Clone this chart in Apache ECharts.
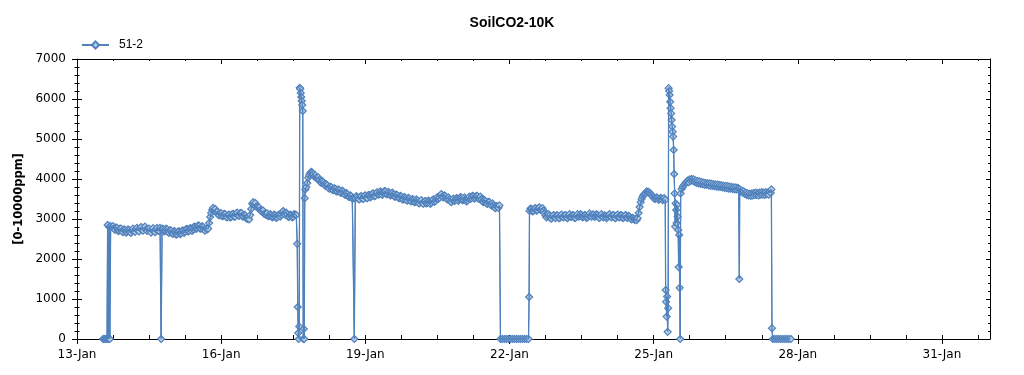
<!DOCTYPE html>
<html><head><meta charset="utf-8">
<script src="https://cdn.jsdelivr.net/npm/echarts@6/dist/echarts.min.js"></script>
<style>html,body{margin:0;padding:0;background:#fff}#c{width:1024px;height:375px}</style>
</head><body><div id="c"></div>
<script>
const chartTitle = 'SoilCO2-10K';
const seriesName = '51-2';
const yAxisName = '[0-10000ppm]';
const monthNames = ['Jan','Feb','Mar','Apr','May','Jun','Jul','Aug','Sep','Oct','Nov','Dec'];
const axisStartUTC = Date.UTC(2000, 0, 13); // 13-Jan 00:00
const axisDays = 19;          // 13-Jan .. 1-Feb
const labelEveryDays = 3;
const minorEveryDays = 0.75;
const yMax = 7000, yStep = 1000;

// sample times: hours after 13-Jan 00:00
const hours = [
  13, 13.5, 14, 14.5, 15, 15.3, 15.7, 16.1, 16.4, 16.8, 17.5,
  18, 18.5, 19, 19.5, 20, 20.5, 21, 21.5, 22, 22.5, 23, 23.5, 24, 24.5, 25, 25.5, 26, 26.5, 27, 27.5,
  28, 28.5, 29, 29.5, 30, 30.5, 31, 31.5, 32, 32.5, 33, 33.5, 34, 34.5, 35, 35.5, 36, 36.5, 37, 37.5,
  38, 38.5, 39, 39.5, 40, 40.5, 41, 41.5, 42, 42.5,
  43, 43.5, 44, 44.5, 45, 45.5, 46, 46.5, 47, 47.5, 48, 48.5, 49, 49.5, 50, 50.5, 51, 51.5, 52, 52.5,
  53, 53.5, 54, 54.5, 55, 55.5, 56, 56.5, 57, 57.5, 58, 58.5, 59, 59.5, 60, 60.5, 61, 61.5, 62, 62.5,
  63, 63.5, 64, 64.5, 65,
  65.5, 66, 66.5, 67, 67.5, 68, 68.5, 69,
  69.5, 70, 70.5, 71, 71.5, 72, 72.5, 73, 73.5, 74, 74.5, 75, 75.5, 76, 76.5, 77, 77.5, 78, 78.5, 79, 79.5,
  80, 80.5, 81, 81.5, 82, 82.5, 83, 83.5, 84, 84.5, 85, 85.5, 86,
  86.5, 87, 87.5, 88, 88.5, 89, 89.5, 90, 90.5, 91, 91.5, 92, 92.5, 93, 93.5, 94, 94.5, 95, 95.5, 96,
  96.5, 97, 97.5, 98, 98.5, 99, 99.5, 100, 100.5, 101, 101.5, 102, 102.5, 103, 103.5, 104, 104.5, 105, 105.5,
  106, 106.5, 107, 107.5, 108, 108.5, 109, 109.5,
  110, 110.25, 110.5, 110.75, 111, 111.25, 111.5, 111.75, 112, 112.25, 112.5, 112.75, 113, 113.25, 113.5,
  113.75, 114, 114.5, 115, 115.5, 116, 116.5, 117, 117.5, 118,
  118.5, 119, 119.5, 120, 120.5, 121, 121.5, 122, 122.5, 123, 123.5, 124, 124.5, 125, 125.5, 126, 126.5, 127, 127.5, 128,
  128.5, 129, 129.5, 130, 130.5, 131, 131.5, 132, 132.5, 133, 133.5, 134, 134.5, 135, 135.5, 136, 136.5, 137, 137.5, 138,
  138.5, 139,
  139.5,
  140, 140.5, 141, 141.5, 142, 142.5, 143, 143.5, 144, 144.5, 145, 145.5, 146, 146.5, 147, 147.5, 148, 148.5, 149, 149.5,
  150, 150.5, 151, 151.5, 152, 152.5, 153, 153.5, 154, 154.5, 155, 155.5, 156, 156.5, 157, 157.5, 158, 158.5, 159, 159.5,
  160, 160.5, 161, 161.5, 162, 162.5, 163, 163.5, 164, 164.5, 165, 165.5, 166, 166.5, 167, 167.5, 168, 168.5, 169, 169.5,
  170, 170.5, 171, 171.5, 172, 172.5, 173, 173.5, 174, 174.5, 175, 175.5, 176, 176.5, 177, 177.5, 178, 178.5, 179, 179.5,
  180, 180.5, 181, 181.5, 182, 182.5, 183, 183.5, 184, 184.5, 185, 185.5, 186, 186.5, 187, 187.5, 188, 188.5, 189, 189.5,
  190, 190.5, 191, 191.5, 192, 192.5, 193, 193.5, 194, 194.5, 195, 195.5, 196, 196.5, 197, 197.5, 198, 198.5, 199, 199.5,
  200, 200.5, 201, 201.5, 202, 202.5, 203, 203.5, 204, 204.5, 205, 205.5, 206, 206.5, 207, 207.5, 208, 208.5, 209, 209.5,
  210, 210.5, 211,
  211.5, 212.5, 213.5, 214.5, 215.5, 216.5, 217.5, 218.5, 219.5, 220.5, 221.5, 222.5, 223.5, 224.5, 225.5, 225.8,
  226, 226.5, 227, 227.5, 228, 228.5, 229, 229.5, 230, 230.5, 231, 231.5, 232, 232.5, 233, 233.5, 234, 234.5, 235, 235.5,
  236, 236.5, 237, 237.5, 238, 238.5, 239, 239.5, 240, 240.5, 241, 241.5, 242, 242.5, 243, 243.5, 244, 244.5, 245, 245.5,
  246, 246.5, 247, 247.5, 248, 248.5, 249, 249.5, 250, 250.5, 251, 251.5, 252, 252.5, 253, 253.5, 254, 254.5, 255, 255.5,
  256, 256.5, 257, 257.5, 258, 258.5, 259, 259.5, 260, 260.5, 261, 261.5, 262, 262.5, 263, 263.5, 264, 264.5, 265, 265.5,
  266, 266.5, 267, 267.5, 268, 268.5, 269, 269.5, 270, 270.5, 271, 271.5, 272, 272.5, 273, 273.5, 274, 274.5, 275, 275.5,
  276, 276.5, 277, 277.5, 278,
  278.5, 279, 279.5, 280, 280.5, 281, 281.5, 282, 282.5, 283, 283.5, 284, 284.5, 285, 285.5, 286,
  286.5, 287, 287.5, 288, 288.5, 289, 289.5, 290, 290.5, 291, 291.5, 292, 292.5, 293, 293.3, 293.8,
  294, 294.25, 294.5, 294.75, 295, 295.25, 295.5, 295.75, 296, 296.25, 296.5, 296.75, 297, 297.25, 297.5, 297.75,
  298, 298.25, 298.5, 298.75, 299, 299.25, 299.5, 299.75, 300, 300.25, 300.5, 300.75, 301, 301.25, 301.5,
  302, 302.5, 303, 303.5, 304,
  304.5, 305, 305.5, 306, 306.5, 307, 307.5, 308, 308.5, 309, 309.5, 310, 310.5, 311, 311.5, 312, 312.5, 313, 313.5, 314,
  314.5, 315, 315.5, 316, 316.5, 317, 317.5, 318, 318.5, 319, 319.5, 320, 320.5, 321, 321.5, 322, 322.5, 323, 323.5, 324,
  324.5, 325, 325.5, 326, 326.5, 327, 327.5, 328, 328.5, 329, 329.5, 330,
  330.5, 330.8,
  331, 331.5, 332, 332.5, 333, 333.5, 334, 334.5, 335, 335.5, 336, 336.5, 337, 337.5, 338, 338.5,
  339, 339.5, 340, 340.5, 341, 341.5, 342, 342.5, 343, 343.5, 344, 344.5, 345, 345.5, 346, 346.5,
  346.8, 347.1,
  347.5, 348.5, 349.5, 350.5, 351.5, 352.5, 353.5, 354.5, 355.5, 356.5
];
// CO2 readings (ppm), same order as hours
const ppm = [
  0, 0, 0, 0, 0, 2850, 0, 2800, 0, 2820, 2800,
  2820, 2760, 2730, 2790, 2780, 2700, 2710, 2760, 2760, 2690, 2670, 2740, 2730, 2660, 2680, 2740, 2720, 2670, 2650, 2710,
  2760, 2700, 2680, 2750, 2780, 2720, 2690, 2770, 2800, 2730, 2710, 2780, 2810, 2740, 2700, 2750, 2760, 2690, 2660, 2730,
  2770, 2700, 2670, 2740, 2780, 2710, 2700, 2780, 0, 2760,
  2750, 2690, 2700, 2760, 2740, 2670, 2650, 2720, 2710, 2640, 2630, 2700, 2680, 2610, 2620, 2690, 2690, 2620, 2640, 2710,
  2710, 2650, 2680, 2750, 2750, 2690, 2700, 2770, 2760, 2700, 2740, 2810, 2800, 2750, 2770, 2840, 2830, 2760, 2760, 2820,
  2800, 2730, 2710, 2760, 2740,
  2760, 2900, 3050, 3150, 3230, 3280, 3220, 3250,
  3170, 3180, 3110, 3090, 3150, 3140, 3070, 3080, 3130, 3120, 3050, 3040, 3100, 3110, 3040, 3050, 3120, 3130, 3060, 3060, 3140,
  3160, 3090, 3080, 3150, 3150, 3070, 3060, 3110, 3090, 3020, 3000, 3040, 2990,
  3100, 3250, 3380, 3420, 3350, 3400, 3310, 3300, 3270, 3290, 3220, 3200, 3180, 3210, 3130, 3120, 3100, 3140, 3070, 3080,
  3120, 3100, 3040, 3050, 3110, 3090, 3030, 3040, 3100, 3110, 3060, 3100, 3170, 3200, 3140, 3110, 3160, 3120, 3050,
  3050, 3110, 3100, 3040, 3060, 3120, 3110, 3100,
  2380, 800, 150, 0, 310, 6280, 6250, 6150, 6050, 5950, 5850, 5700, 0, 250, 0,
  3520, 3740, 3800, 3900, 4030, 4100, 4150, 4180, 4160, 4120,
  4060, 4090, 4030, 4000, 4040, 3980, 3930, 3900, 3950, 3910, 3860, 3830, 3870, 3840, 3780, 3760, 3810, 3790, 3730, 3720,
  3770, 3750, 3690, 3690, 3740, 3720, 3660, 3660, 3710, 3680, 3620, 3600, 3650, 3620, 3560, 3550, 3590, 3570, 3510, 3520,
  0, 3520,
  3570,
  3550, 3500, 3490, 3560, 3570, 3510, 3500, 3580, 3590, 3530, 3520, 3600, 3600, 3540, 3570, 3630, 3640, 3570, 3580, 3650,
  3670, 3610, 3620, 3690, 3660, 3600, 3640, 3700, 3690, 3620, 3620, 3680, 3650, 3590, 3600, 3660, 3620, 3560, 3560, 3610,
  3590, 3530, 3520, 3580, 3560, 3490, 3490, 3550, 3530, 3470, 3460, 3530, 3510, 3450, 3440, 3500, 3480, 3420, 3430, 3490,
  3460, 3400, 3390, 3450, 3470, 3400, 3380, 3440, 3450, 3390, 3400, 3460, 3440, 3380, 3410, 3470, 3490, 3430, 3450, 3510,
  3550, 3500, 3530, 3600, 3620, 3560, 3540, 3590, 3570, 3510, 3490, 3540, 3500, 3440, 3420, 3480, 3510, 3450, 3470, 3520,
  3510, 3450, 3490, 3550, 3530, 3470, 3480, 3540, 3500, 3440, 3460, 3520, 3560, 3500, 3520, 3580, 3570, 3510, 3530, 3580,
  3570, 3510, 3500, 3560, 3500, 3440, 3420, 3470, 3450, 3390, 3380, 3430, 3420, 3360, 3340, 3390, 3350, 3290, 3270, 3320,
  3310, 3280, 3340,
  0, 0, 0, 0, 0, 0, 0, 0, 0, 0, 0, 0, 0, 0, 0, 1050,
  3200, 3260, 3250, 3190, 3200, 3260, 3270, 3210, 3220, 3280, 3290, 3230, 3230, 3270, 3210, 3150, 3090, 3040, 3080, 3120,
  3080, 3020, 3010, 3070, 3100, 3040, 3030, 3090, 3090, 3030, 3020, 3080, 3110, 3050, 3040, 3090, 3100, 3040, 3020, 3070,
  3120, 3060, 3050, 3100, 3090, 3030, 3030, 3090, 3120, 3060, 3070, 3120, 3100, 3040, 3050, 3100, 3090, 3030, 3040, 3090,
  3140, 3080, 3060, 3110, 3110, 3050, 3070, 3120, 3100, 3040, 3030, 3090, 3120, 3060, 3040, 3090, 3080, 3020, 3050, 3100,
  3120, 3060, 3040, 3090, 3100, 3040, 3020, 3080, 3110, 3050, 3040, 3100, 3090, 3030, 3030, 3080, 3100, 3040, 3030, 3080,
  3060, 3010, 2990, 3030, 3010,
  2980, 3000, 2970, 3020, 3150, 3300, 3420, 3500, 3560, 3600, 3630, 3640, 3690, 3670, 3680, 3650,
  3620, 3600, 3560, 3530, 3500, 3510, 3540, 3520, 3480, 3500, 3530, 3510, 3470, 3500, 3520, 3480,
  1225, 930, 560, 1060, 180, 770, 6270, 6200, 6100, 5930, 5770, 5640, 5475, 5310, 5180, 5060,
  4725, 4125, 3640, 2810, 3390, 3225, 2900, 3350, 3060, 2725, 1800, 2600, 1280, 0, 3640,
  3750, 3800, 3840, 3870, 3900,
  3930, 3960, 3920, 3990, 3950, 4000, 3960, 3990, 3930, 3960, 3900, 3950, 3890, 3940, 3880, 3920, 3870, 3910, 3850, 3900,
  3860, 3890, 3840, 3890, 3830, 3880, 3830, 3870, 3820, 3860, 3810, 3860, 3800, 3850, 3800, 3840, 3790, 3830, 3780, 3830,
  3770, 3820, 3760, 3810, 3760, 3800, 3750, 3790, 3740, 3790, 3740, 3780,
  3760, 1500,
  3740, 3690, 3710, 3660, 3690, 3630, 3660, 3600, 3640, 3590, 3630, 3580, 3640, 3590, 3650, 3600,
  3660, 3600, 3650, 3590, 3660, 3610, 3670, 3610, 3660, 3600, 3670, 3620, 3660, 3610, 3680, 3650,
  3740, 270,
  0, 0, 0, 0, 0, 0, 0, 0, 0, 0
];

const FONT = 'DejaVu Sans';
const BLACK = '#000';
const LINE_BLUE = '#4F81BD';
if (hours.length !== ppm.length) console.error('length mismatch', hours.length, ppm.length);
const points = hours.map((h, i) => [h / 24, ppm[i]]);
const majorTicks = [];
for (let d = 0; d <= axisDays - 1; d += labelEveryDays) majorTicks.push(d);

function dayLabel(d) {
  if (Math.abs(d / labelEveryDays - Math.round(d / labelEveryDays)) > 1e-6 || d > axisDays - 1) return '';
  const dt = new Date(axisStartUTC + d * 86400000);
  return dt.getUTCDate() + '-' + monthNames[dt.getUTCMonth()];
}

const gridRect = { left: 77, right: 34, top: 59, bottom: 36, containLabel: false, outerBoundsMode: 'none' };
const line = { show: true, onZero: false, lineStyle: { color: BLACK, width: 1 } };
const noLine = { show: false, onZero: false };
function xBase(gridIndex, position) {
  return { type: 'value', gridIndex, position, min: 0, max: axisDays, splitLine: { show: false },
           axisLabel: { show: false }, minorTick: { show: false } };
}
function yBase(gridIndex, position) {
  return { type: 'value', gridIndex, position, min: 0, max: yMax, interval: yStep, splitLine: { show: false },
           minorSplitLine: { show: false }, axisLabel: { show: false } };
}

const option = {
  animation: false,
  backgroundColor: '#fff',
  title: { text: chartTitle, left: 'center', top: 11,
           textStyle: { fontFamily: 'Liberation Sans', fontWeight: 'bold', fontSize: 14, color: BLACK } },
  legend: { left: 81, top: 39, padding: 0, itemWidth: 27, itemHeight: 9, data: [seriesName],
            textStyle: { fontFamily: 'Liberation Sans', fontSize: 12, color: BLACK, padding: [0, 0, 0, 5] } },
  grid: [Object.assign({}, gridRect), Object.assign({}, gridRect)],
  xAxis: [
    Object.assign(xBase(0, 'bottom'), { interval: labelEveryDays, axisLine: line,
      axisTick: { show: true, inside: false, length: 5, customValues: majorTicks, lineStyle: { color: BLACK } },
      axisLabel: { show: true, customValues: majorTicks, formatter: dayLabel, margin: 10,
                   fontFamily: FONT, fontSize: 12, color: BLACK } }),
    Object.assign(xBase(0, 'top'), { interval: labelEveryDays, axisLine: line,
      axisTick: { show: true, inside: true, length: 5, customValues: majorTicks, lineStyle: { color: BLACK } } }),
    Object.assign(xBase(1, 'bottom'), { interval: minorEveryDays, axisLine: noLine,
      axisTick: { show: true, inside: true, length: 4, lineStyle: { color: BLACK } } }),
    Object.assign(xBase(1, 'top'), { interval: minorEveryDays, axisLine: noLine,
      axisTick: { show: true, inside: true, length: 2, lineStyle: { color: BLACK } } })
  ],
  yAxis: [
    Object.assign(yBase(0, 'left'), { axisLine: line,
      axisTick: { show: true, inside: false, length: 5, lineStyle: { color: BLACK } },
      minorTick: { show: true, splitNumber: 5, length: 2.5, lineStyle: { color: BLACK } },
      axisLabel: { show: true, formatter: v => String(v), margin: 11, fontFamily: FONT, fontSize: 12, color: BLACK },
      name: yAxisName, nameLocation: 'middle', nameGap: 52,
      nameTextStyle: { fontFamily: FONT, fontWeight: 'bold', fontSize: 11.5, color: BLACK } }),
    Object.assign(yBase(0, 'right'), { axisLine: line,
      axisTick: { show: true, inside: true, length: 4, lineStyle: { color: BLACK } },
      minorTick: { show: true, splitNumber: 5, length: 2, lineStyle: { color: BLACK } } }),
    Object.assign(yBase(1, 'left'), { axisLine: noLine,
      axisTick: { show: true, inside: true, length: 5, lineStyle: { color: BLACK } },
      minorTick: { show: true, splitNumber: 5, length: 2.5, lineStyle: { color: BLACK } } })
  ],
  series: [{
    name: seriesName, type: 'line', xAxisIndex: 0, yAxisIndex: 0, data: points, z: 2,
    symbol: 'diamond', symbolSize: 7, showSymbol: true, showAllSymbol: true, sampling: 'none',
    lineStyle: { color: LINE_BLUE, width: 1 },
    itemStyle: { color: '#B9CCE0', borderColor: LINE_BLUE, borderWidth: 1.2 },
    emphasis: { disabled: true }
  }, {
    // the same trace redrawn as a plain line above the markers (connecting segments on top)
    name: seriesName + ' trace', type: 'line', xAxisIndex: 0, yAxisIndex: 0, data: points, z: 3,
    showSymbol: false, sampling: 'none', silent: true,
    lineStyle: { color: LINE_BLUE, width: 1.3 },
    emphasis: { disabled: true }
  }]
};
echarts.init(document.getElementById('c'), null, { renderer: 'canvas' }).setOption(option);
</script></body></html>
